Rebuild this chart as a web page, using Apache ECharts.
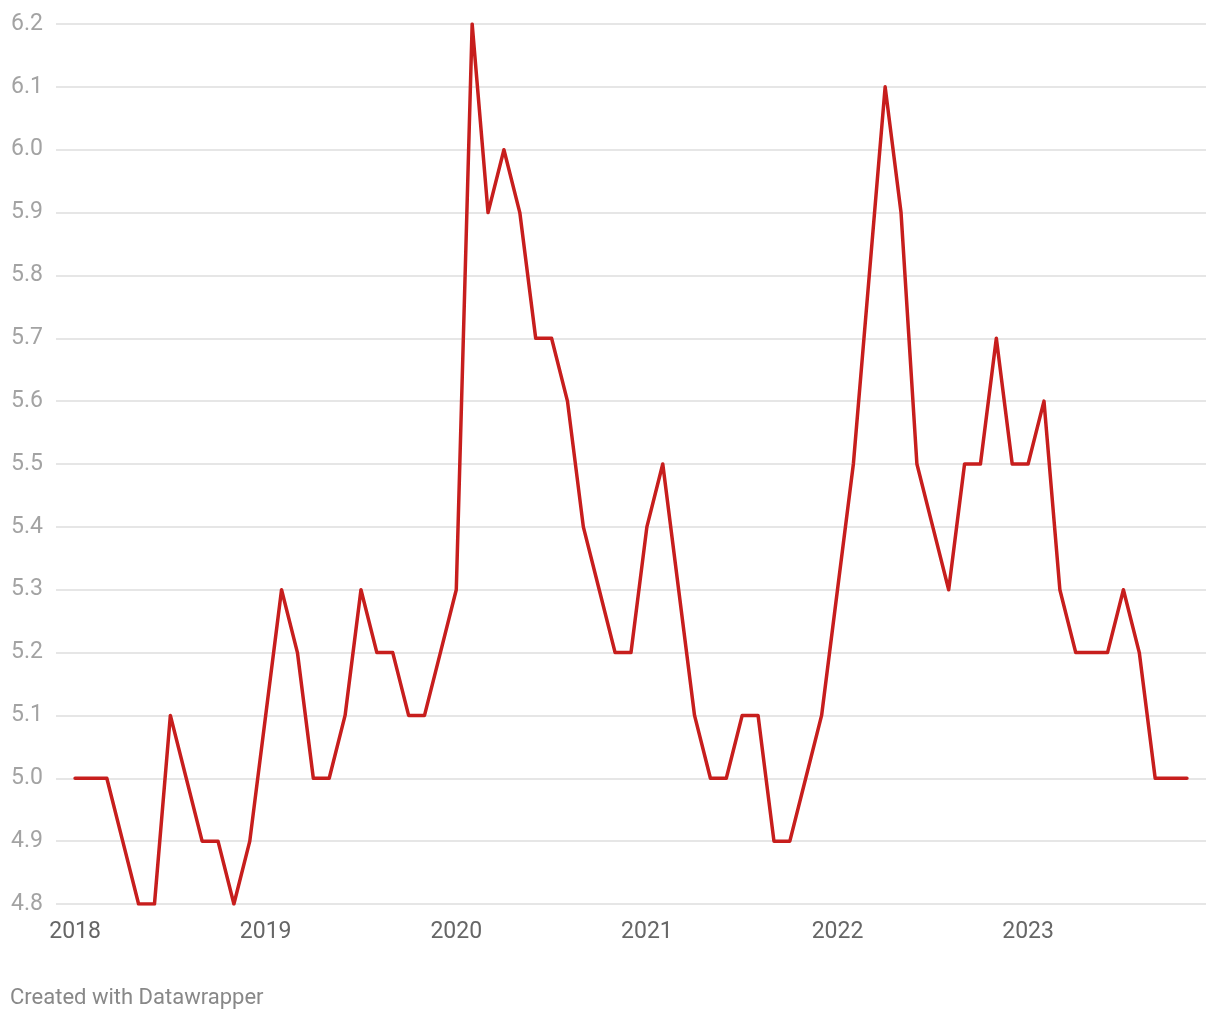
<!DOCTYPE html>
<html>
<head>
<meta charset="utf-8">
<script src="https://cdn.jsdelivr.net/npm/echarts@6/dist/echarts.min.js"></script>
<style>
html,body{margin:0;padding:0;background:#fff;}
#chart{width:1220px;height:1020px;}
</style>
</head>
<body>
<div id="chart"></div>
<script>
// Monthly values, Jan 2018 .. Nov 2023
const months = [
  "2018-01","2018-02","2018-03","2018-04","2018-05","2018-06","2018-07","2018-08","2018-09","2018-10","2018-11","2018-12",
  "2019-01","2019-02","2019-03","2019-04","2019-05","2019-06","2019-07","2019-08","2019-09","2019-10","2019-11","2019-12",
  "2020-01","2020-02","2020-03","2020-04","2020-05","2020-06","2020-07","2020-08","2020-09","2020-10","2020-11","2020-12",
  "2021-01","2021-02","2021-03","2021-04","2021-05","2021-06","2021-07","2021-08","2021-09","2021-10","2021-11","2021-12",
  "2022-01","2022-02","2022-03","2022-04","2022-05","2022-06","2022-07","2022-08","2022-09","2022-10","2022-11","2022-12",
  "2023-01","2023-02","2023-03","2023-04","2023-05","2023-06","2023-07","2023-08","2023-09","2023-10","2023-11"
];
const values = [
  5.0,5.0,5.0,4.9,4.8,4.8,5.1,5.0,4.9,4.9,4.8,4.9,
  5.1,5.3,5.2,5.0,5.0,5.1,5.3,5.2,5.2,5.1,5.1,5.2,
  5.3,6.2,5.9,6.0,5.9,5.7,5.7,5.6,5.4,5.3,5.2,5.2,
  5.4,5.5,5.3,5.1,5.0,5.0,5.1,5.1,4.9,4.9,5.0,5.1,
  5.3,5.5,5.8,6.1,5.9,5.5,5.4,5.3,5.5,5.5,5.7,5.5,
  5.5,5.6,5.3,5.2,5.2,5.2,5.3,5.2,5.0,5.0,5.0
];
const yearTicks = ["2018","2019","2020","2021","2022","2023"];
const footerText = "Created with Datawrapper";

// month index -> value pairs
const seriesData = months.map((m, i) => {
  const [y, mo] = m.split("-").map(Number);
  return [(y - 2018) * 12 + (mo - 1), values[i]];
});
const tickPositions = yearTicks.map(y => (Number(y) - 2018) * 12);

const chart = echarts.init(document.getElementById('chart'), null, {renderer: 'canvas'});
const font = 'Roboto, "Noto Sans", sans-serif';
chart.setOption({
  animation: false,
  backgroundColor: '#ffffff',
  textStyle: {fontFamily: font},
  grid: {left: 56, right: 14, top: 24, bottom: 116, containLabel: false},
  graphic: [{
    type: 'text', left: 10, top: 987,
    style: {text: footerText, fill: '#888888', font: '22px ' + font}
  }],
  xAxis: {
    type: 'value',
    min: -1.2, max: 71.2,
    axisLine: {show: false},
    axisTick: {show: false},
    splitLine: {show: false},
    axisLabel: {
      customValues: tickPositions,
      formatter: v => String(2018 + Math.round(v / 12)),
      color: '#666666', fontSize: 23, margin: 17, fontFamily: font
    }
  },
  yAxis: {
    type: 'value',
    min: 4.8, max: 6.2, interval: 0.1,
    axisLine: {show: false},
    axisTick: {show: false},
    splitLine: {show: true, lineStyle: {color: '#e6e6e6', width: 2}},
    axisLabel: {
      formatter: v => v.toFixed(1),
      color: '#a3a3a3', fontSize: 23, margin: 13, fontFamily: font
    }
  },
  series: [{
    type: 'line',
    data: seriesData,
    showSymbol: false,
    symbol: 'none',
    lineStyle: {color: '#c71e1d', width: 3.5, join: 'round', cap: 'round'},
    z: 3
  }]
});
</script>
</body>
</html>
